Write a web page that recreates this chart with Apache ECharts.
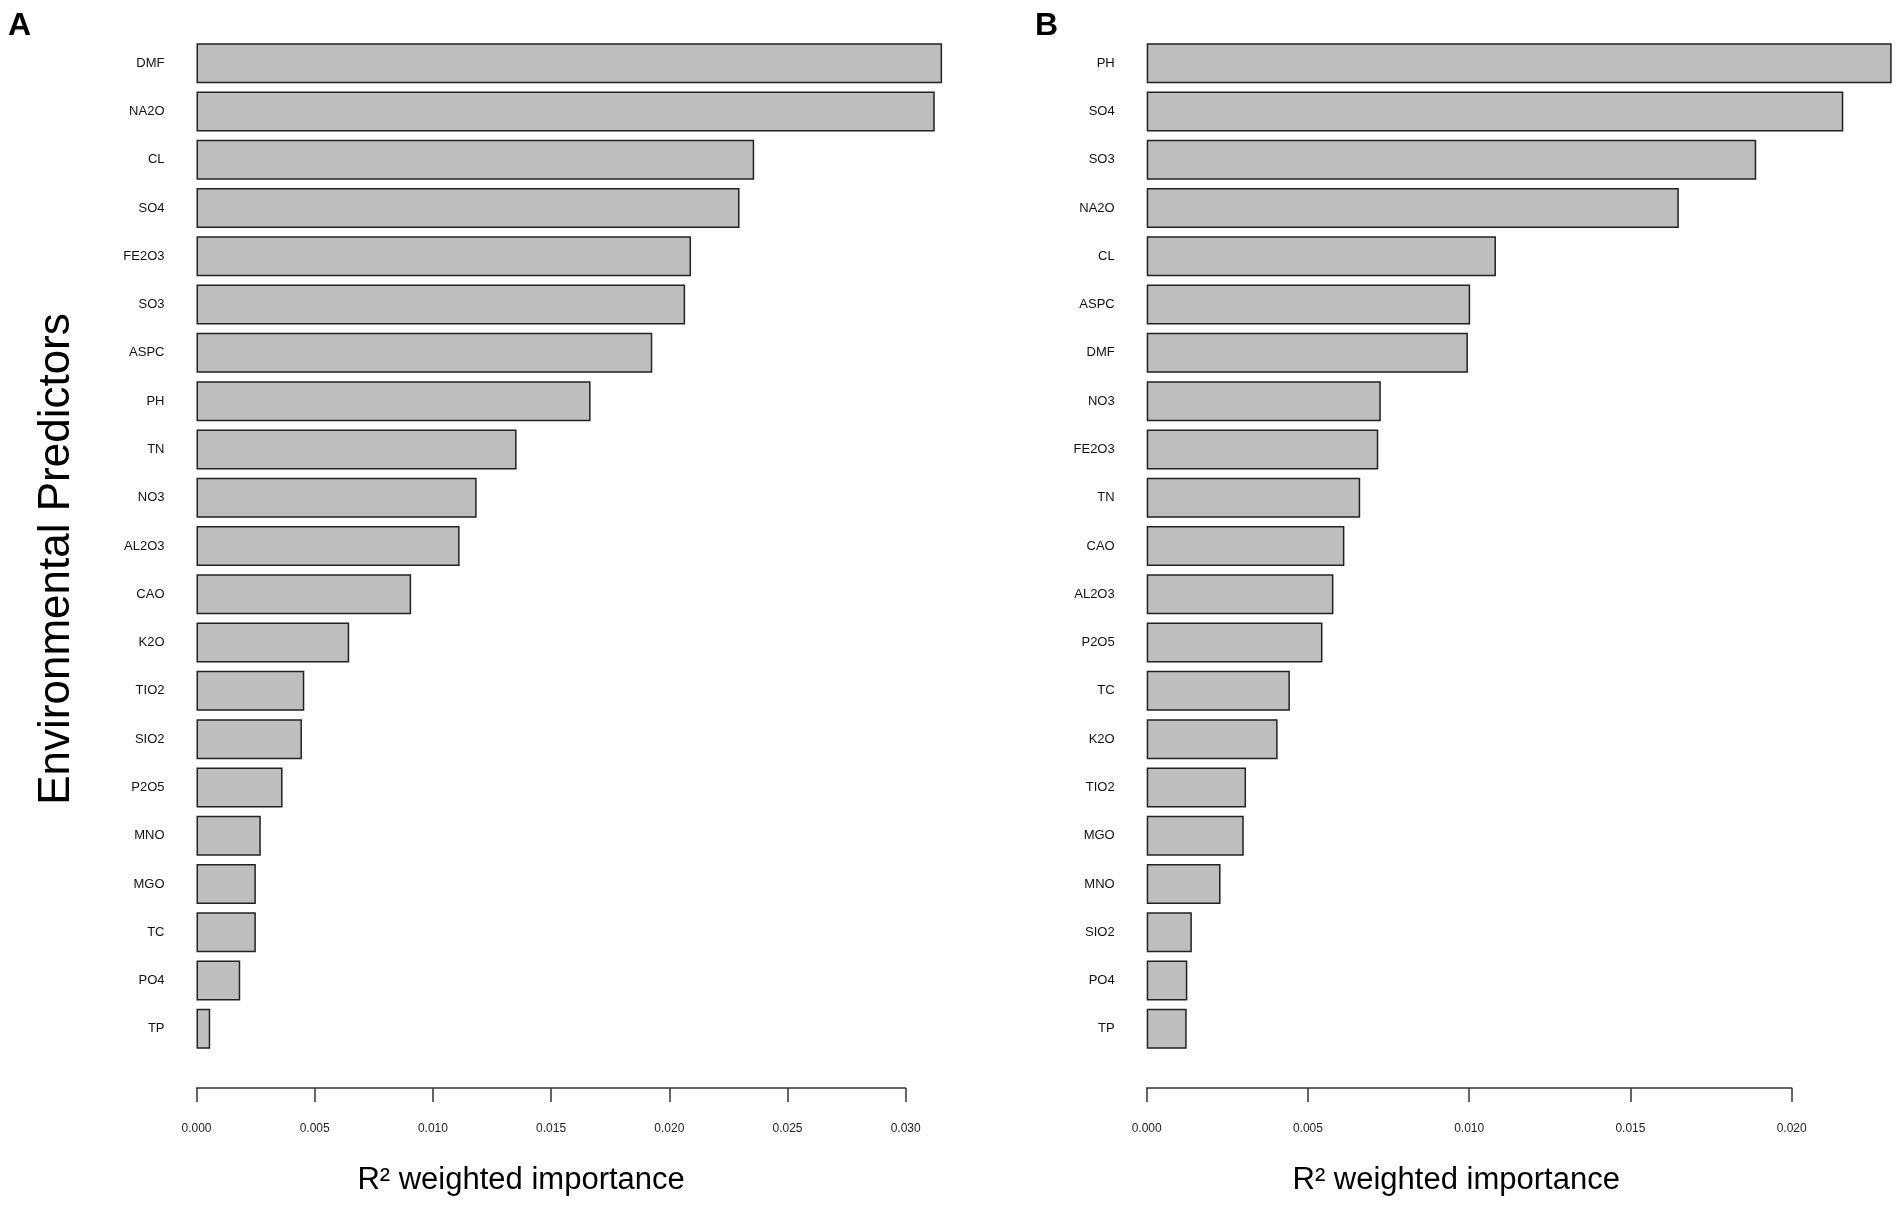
<!DOCTYPE html>
<html>
<head>
<meta charset="utf-8">
<title>R2 weighted importance</title>
<script src="https://cdn.jsdelivr.net/npm/echarts@6/dist/echarts.min.js"></script>
<style>
html, body { margin: 0; padding: 0; background: #fff; }
#main { width: 1901px; height: 1215px; }
</style>
</head>
<body>
<div id="main"></div>
<script>
// panel A
var predictorsA = ['DMF','NA2O','CL','SO4','FE2O3','SO3','ASPC','PH','TN','NO3','AL2O3',
    'CAO','K2O','TIO2','SIO2','P2O5','MNO','MGO','TC','PO4','TP'];
var importanceA = [0.03154,0.03123,0.02359,0.02297,0.02092,0.02067,0.01928,0.01667,0.01354,0.01185,0.01113,
    0.00908,0.00646,0.00456,0.00446,0.00364,0.00272,0.00251,0.00251,0.00185,0.00058];
var ticksA = [0, 0.005, 0.010, 0.015, 0.020, 0.025, 0.030];

// panel B
var predictorsB = ['PH','SO4','SO3','NA2O','CL','ASPC','DMF','NO3','FE2O3','TN','CAO',
    'AL2O3','P2O5','TC','K2O','TIO2','MGO','MNO','SIO2','PO4','TP'];
var importanceB = [0.0231,0.0216,0.0189,0.0165,0.01083,0.01003,0.00996,0.00726,0.00718,0.00662,0.00613,
    0.00579,0.00545,0.00444,0.00406,0.00308,0.00301,0.00229,0.0014,0.00126,0.00124];
var ticksB = [0, 0.005, 0.010, 0.015, 0.020];

var font = 'Liberation Sans, Arial, sans-serif';
var xName = 'R\u00B2 weighted importance';
var yName = 'Environmental Predictors';

function valueAxis(idx, ticks, shift){
    return {
        type: 'value',
        gridIndex: idx,
        min: ticks[0],
        max: ticks[ticks.length-1],
        interval: 0.005,
        position: 'bottom',
        offset: 35,
        name: xName,
        nameLocation: 'middle',
        nameGap: 77,
        // R centres the title a little left of the tick range
        nameTextStyle: { fontFamily: font, fontSize: 31, color: '#000', padding: [0, shift, 0, 0] },
        axisLine: { show: true, lineStyle: { color: '#333', width: 1.5 } },
        axisTick: { show: true, length: 14, lineStyle: { color: '#333', width: 1.5 } },
        axisLabel: {
            margin: 35,
            fontFamily: font,
            fontSize: 12,
            color: '#222',
            formatter: function(v){ return v.toFixed(3); }
        },
        splitLine: { show: false }
    };
}

function catAxis(idx, cats){
    return {
        type: 'category',
        gridIndex: idx,
        data: cats,
        inverse: true,
        axisLine: { show: false },
        axisTick: { show: false },
        axisLabel: { margin: 32, fontFamily: font, fontSize: 13, color: '#111' }
    };
}

function barSeries(idx, data){
    return {
        type: 'bar',
        xAxisIndex: idx,
        yAxisIndex: idx,
        data: data,
        barWidth: 40,
        clip: false,
        silent: true,
        itemStyle: { color: '#bebebe', borderColor: '#222', borderWidth: 1.5 }
    };
}

var myChart = echarts.init(document.getElementById('main'), null, { renderer: 'canvas' });
var option = {
    backgroundColor: '#fff',
    animation: false,
    title: [
        { text: 'A', left: 3, top: 5, textStyle: { fontFamily: font, fontSize: 32, fontWeight: 'bold', color: '#000' } },
        { text: 'B', left: 1030, top: 5, textStyle: { fontFamily: font, fontSize: 32, fontWeight: 'bold', color: '#000' } }
    ],
    grid: [
        { left: 196.5, width: 709.2, top: 39, height: 1014 },
        { left: 1146.7, width: 645, top: 39, height: 1014 }
    ],
    graphic: [{
        type: 'text',
        x: 57,
        y: 559,
        rotation: Math.PI / 2,
        style: {
            text: yName,
            fontFamily: font,
            fontSize: 44,
            fill: '#000',
            align: 'center',
            verticalAlign: 'middle'
        }
    }],
    xAxis: [valueAxis(0, ticksA, 60), valueAxis(1, ticksB, 26)],
    yAxis: [catAxis(0, predictorsA), catAxis(1, predictorsB)],
    series: [barSeries(0, importanceA), barSeries(1, importanceB)]
};
myChart.setOption(option);
</script>
</body>
</html>
